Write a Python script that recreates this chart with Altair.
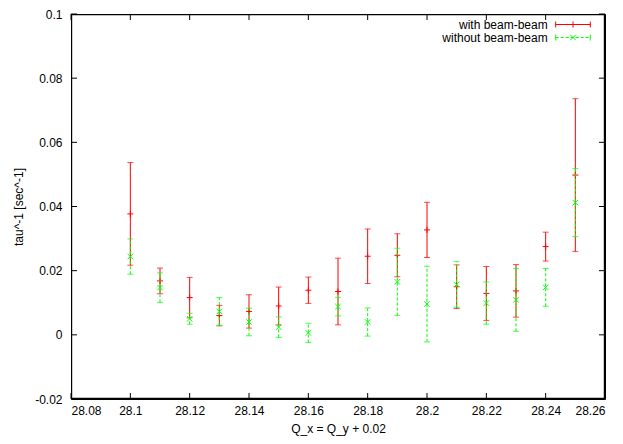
import altair as alt
import pandas as pd

# ---- data ----
q_vals = [28.10, 28.11, 28.12, 28.13, 28.14, 28.15, 28.16, 28.17,
          28.18, 28.19, 28.20, 28.21, 28.22, 28.23, 28.24, 28.25]
with_bb = [0.0377, 0.0168, 0.0116, 0.0060, 0.0073, 0.0090, 0.0139, 0.0135,
           0.0245, 0.0248, 0.0327, 0.0150, 0.0129, 0.0137, 0.0275, 0.0498]
with_err = [0.0160, 0.0040, 0.0063, 0.0032, 0.0052, 0.0059, 0.0041, 0.0104,
            0.0085, 0.0067, 0.0086, 0.0068, 0.0084, 0.0082, 0.0045, 0.0238]
without_bb = [0.0244, 0.0147, 0.0050, 0.0073, 0.0040, 0.0024, 0.0006, 0.0088,
              0.0040, 0.0165, 0.0096, 0.0157, 0.0099, 0.0109, 0.0148, 0.0412]
without_err = [0.0055, 0.0046, 0.0017, 0.0043, 0.0043, 0.0032, 0.0030, 0.0029,
               0.0044, 0.0105, 0.0118, 0.0071, 0.0066, 0.0098, 0.0059, 0.0106]

x_ticks = [28.08, 28.10, 28.12, 28.14, 28.16, 28.18, 28.20, 28.22, 28.24, 28.26]
y_ticks = [-0.02, 0.0, 0.02, 0.04, 0.06, 0.08, 0.1]

series_names = ["with beam-beam", "without beam-beam"]
series_colors = ["#ff0000", "#00ff00"]

W, H = 534, 385
TL = 6  # inward tick length
FONT = "Liberation Sans"

def frame(y, err):
    return pd.DataFrame({
        "q": q_vals,
        "tau": y,
        "lo": [a - b for a, b in zip(y, err)],
        "hi": [a + b for a, b in zip(y, err)],
    })

df_red = frame(with_bb, with_err)
df_green = frame(without_bb, without_err)

xscale = alt.Scale(domain=[x_ticks[0], x_ticks[-1]], nice=False, zero=False)
yscale = alt.Scale(domain=[y_ticks[0], y_ticks[-1]], nice=False, zero=False)
label_expr = "toString(round(datum.value*100)/100)"
common_axis = dict(ticks=False, tickSize=0, domain=False, grid=False,
                   labelFont=FONT, titleFont=FONT, labelFontSize=12,
                   titleFontSize=12, titleFontWeight="normal",
                   labelColor="black", titleColor="black",
                   labelExpr=label_expr, titleBaseline="middle")
xaxis = alt.Axis(values=x_ticks, labelPadding=6,
                 title="Q_x = Q_y + 0.02", titleX=W / 2, titleY=29,
                 **common_axis)
yaxis = alt.Axis(values=y_ticks, labelPadding=9,
                 title="tau^-1 [sec^-1]", titleX=-53, titleY=H / 2,
                 titleAngle=-90, **common_axis)

X = lambda f="q": alt.X(f"{f}:Q", scale=xscale, axis=xaxis)
Y = lambda f: alt.Y(f"{f}:Q", scale=yscale, axis=yaxis)

plus_shape = "M-1,0L1,0M0,-1L0,1"
x_shape = "M-1,-1L1,1M-1,1L1,-1"

def series_layers(df, color, dash, shape, size):
    base = alt.Chart(df)
    rule_kw = dict(color=color, strokeWidth=1)
    if dash:
        rule_kw["strokeDash"] = dash
    bars = base.mark_rule(**rule_kw).encode(x=X(), y=Y("lo"), y2="hi:Q")
    caps_lo = base.mark_tick(color=color, orient="horizontal", size=6,
                             thickness=1).encode(x=X(), y=Y("lo"))
    caps_hi = base.mark_tick(color=color, orient="horizontal", size=6,
                             thickness=1).encode(x=X(), y=Y("hi"))
    pts = base.mark_point(shape=shape, size=size, filled=False, color=color,
                          strokeWidth=1, opacity=1).encode(x=X(), y=Y("tau"))
    return [bars, caps_lo, caps_hi, pts]

red_layers = series_layers(df_red, series_colors[0], None, plus_shape, 36)
green_layers = series_layers(df_green, series_colors[1], [3, 2], x_shape, 30)

# frame of the plot area: a thin black rectangle slightly inset
frame_df = pd.DataFrame({"k": [1]})
box = alt.Chart(frame_df).mark_rect(
    color="#000000", opacity=1
).encode(x=alt.value(0), x2=alt.value(W), y=alt.value(0), y2=alt.value(1.2))
box_b = alt.Chart(frame_df).mark_rect(color="#000000", opacity=1).encode(
    x=alt.value(0), x2=alt.value(W), y=alt.value(H - 1.2), y2=alt.value(H))
box_l = alt.Chart(frame_df).mark_rect(color="#000000", opacity=1).encode(
    x=alt.value(0), x2=alt.value(1.2), y=alt.value(0), y2=alt.value(H))
box_r = alt.Chart(frame_df).mark_rect(color="#000000", opacity=1).encode(
    x=alt.value(W - 1.2), x2=alt.value(W), y=alt.value(0), y2=alt.value(H))

# inward ticks on all four sides
xt = pd.DataFrame({"q": x_ticks})
yt = pd.DataFrame({"tau": y_ticks})
tick_kw = dict(color="black", strokeWidth=1)
xt_bottom = alt.Chart(xt).mark_rule(**tick_kw).encode(
    x=X(), y=alt.value(H), y2=alt.value(H - TL))
xt_top = alt.Chart(xt).mark_rule(**tick_kw).encode(
    x=X(), y=alt.value(0), y2=alt.value(TL))
yt_left = alt.Chart(yt).mark_rule(**tick_kw).encode(
    y=Y("tau"), x=alt.value(0), x2=alt.value(TL))
yt_right = alt.Chart(yt).mark_rule(**tick_kw).encode(
    y=Y("tau"), x=alt.value(W), x2=alt.value(W - TL))

# gnuplot-style key (top right)
leg_layers = []
rows_y = [10.5, 23.5]
text_right = 476.7
s0, s1, sc = 484.7, 519.3, 502
for i, (name, col) in enumerate(zip(series_names, series_colors)):
    d = pd.DataFrame({"label": [name]})
    yy = rows_y[i]
    leg_layers.append(alt.Chart(d).mark_text(
        align="right", baseline="middle", font=FONT, fontSize=12, color="black"
    ).encode(text="label:N", x=alt.value(text_right), y=alt.value(yy)))
    kw = dict(color=col, strokeWidth=1)
    if i == 1:
        kw["strokeDash"] = [3, 2]
    leg_layers.append(alt.Chart(d).mark_rule(**kw).encode(
        x=alt.value(s0), x2=alt.value(s1), y=alt.value(yy)))
    for xe in (s0, s1):
        leg_layers.append(alt.Chart(d).mark_rule(color=col, strokeWidth=1).encode(
            x=alt.value(xe), y=alt.value(yy - 3), y2=alt.value(yy + 3)))
    leg_layers.append(alt.Chart(d).mark_point(
        shape=plus_shape if i == 0 else x_shape, size=36 if i == 0 else 30,
        filled=False, color=col, strokeWidth=1, opacity=1
    ).encode(x=alt.value(sc), y=alt.value(yy)))

chart = alt.layer(
    box, box_b, box_l, box_r,
    xt_bottom, xt_top, yt_left, yt_right,
    *red_layers, *green_layers, *leg_layers
).properties(
    width=W, height=H,
    autosize=alt.AutoSizeParams(type="none"),
    padding={"left": 63, "top": 6, "right": 10, "bottom": 37},
).configure(
    background="white"
).configure_view(
    stroke="#000000", strokeWidth=1
).configure_axis(
    labelFont=FONT, titleFont=FONT, labelFontSize=12, titleFontSize=12,
    titleFontWeight="normal", labelColor="black", titleColor="black"
)

chart.save("out.html", embed_options={"renderer": "svg", "actions": False})
